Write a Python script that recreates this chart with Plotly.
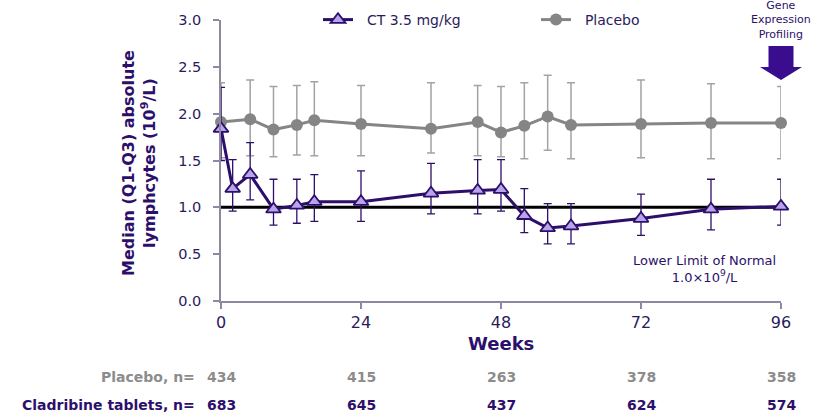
import plotly.graph_objects as go

# ---------------- data ----------------
weeks_ct = [0, 2, 5, 9, 13, 16, 24, 36, 44, 48, 52, 56, 60, 72, 84, 96]
ct_median = [1.84, 1.20, 1.35, 0.98, 1.02, 1.06, 1.06, 1.15, 1.18, 1.19, 0.91, 0.78, 0.80, 0.88, 0.98, 1.01]
ct_q1 = [1.50, 0.96, 1.08, 0.81, 0.83, 0.85, 0.85, 0.93, 0.93, 0.96, 0.73, 0.61, 0.61, 0.70, 0.76, 0.81]
ct_q3 = [2.28, 1.51, 1.69, 1.30, 1.30, 1.35, 1.39, 1.47, 1.51, 1.51, 1.20, 1.04, 1.04, 1.14, 1.30, 1.30]

weeks_pbo = [0, 5, 9, 13, 16, 24, 36, 44, 48, 52, 56, 60, 72, 84, 96]
pbo_median = [1.91, 1.94, 1.83, 1.88, 1.93, 1.89, 1.84, 1.91, 1.80, 1.87, 1.97, 1.88, 1.89, 1.90, 1.90]
pbo_q1 = [1.53, 1.55, 1.54, 1.56, 1.55, 1.55, 1.58, 1.55, 1.54, 1.52, 1.61, 1.52, 1.53, 1.52, 1.52]
pbo_q3 = [2.33, 2.36, 2.29, 2.30, 2.34, 2.30, 2.33, 2.30, 2.29, 2.33, 2.41, 2.33, 2.36, 2.32, 2.29]

lln = 1.0
x_ticks = [0, 24, 48, 72, 96]
y_ticks = [0.0, 0.5, 1.0, 1.5, 2.0, 2.5, 3.0]
n_weeks = [0, 24, 48, 72, 96]
placebo_n = [434, 415, 263, 378, 358]
ct_n = [683, 645, 437, 624, 574]

# ---------------- style ----------------
FONT = "DejaVu Sans"
PURPLE = "#2c0f6b"
ARROW = "#3a0c8e"
LAVENDER = "#b9a3ea"
GRAY = "#858585"
GRAY_BAR = "#a3a3a3"
AXIS = "#8e88a2"
TEXT = "#2b1b5c"

W, H = 813, 418
ML, MR, MT, MB = 221, 32, 20, 117
PH = H - MT - MB
NB = "\u00a0"


def py(pix):
    """pixel row -> paper y"""
    return (H - MB - pix) / PH


def px(pix):
    return (pix - ML) / (W - ML - MR)


fig = go.Figure()

fig.add_trace(go.Scatter(
    x=[weeks_ct[0], weeks_ct[-1]], y=[lln, lln], mode="lines",
    line=dict(color="black", width=3), showlegend=False, hoverinfo="skip",
    cliponaxis=False))

fig.add_trace(go.Scatter(
    x=weeks_pbo, y=pbo_median, mode="lines+markers", name=NB * 2 + "Placebo",
    line=dict(color=GRAY, width=3),
    marker=dict(symbol="circle", size=12, color=GRAY),
    error_y=dict(type="data", symmetric=False,
                 array=[q - m for q, m in zip(pbo_q3, pbo_median)],
                 arrayminus=[m - q for q, m in zip(pbo_q1, pbo_median)],
                 color=GRAY_BAR, thickness=1.5, width=4),
    legendrank=2, cliponaxis=False))

fig.add_trace(go.Scatter(
    x=weeks_ct, y=ct_median, mode="lines+markers",
    name=NB * 2 + "CT 3.5 mg/kg",
    line=dict(color=PURPLE, width=3),
    marker=dict(symbol="triangle-up", size=13, color=LAVENDER,
                line=dict(color=PURPLE, width=1.8)),
    error_y=dict(type="data", symmetric=False,
                 array=[q - m for q, m in zip(ct_q3, ct_median)],
                 arrayminus=[m - q for q, m in zip(ct_q1, ct_median)],
                 color=PURPLE, thickness=1.3, width=4),
    legendrank=1, cliponaxis=False))

annotations = []
# y axis title
annotations.append(dict(
    text="<b>Median (Q1-Q3) absolute<br>lymphcytes (10<sup>9</sup>/L)</b>",
    xref="paper", yref="paper", x=px(139), y=py(163), textangle=-90,
    showarrow=False, font=dict(family=FONT, size=16, color=PURPLE),
    xanchor="center", yanchor="middle"))
# x axis title
annotations.append(dict(
    text="<b>Weeks</b>", xref="paper", yref="paper", x=0.5, y=py(343),
    showarrow=False, font=dict(family=FONT, size=18, color=PURPLE),
    xanchor="center", yanchor="middle"))
# LLN label
annotations.append(dict(
    text="Lower Limit of Normal<br>1.0×10<sup>9</sup>/L",
    xref="paper", yref="paper", x=px(704), y=py(269), showarrow=False,
    font=dict(family=FONT, size=13, color=PURPLE), align="center",
    xanchor="center", yanchor="middle"))
# Gene expression profiling label
annotations.append(dict(
    text="Gene<br>Expression<br>Profiling",
    xref="x", yref="paper", x=x_ticks[-1], y=py(20), showarrow=False,
    font=dict(family=FONT, size=11, color=PURPLE), align="center",
    xanchor="center", yanchor="middle"))
# n at risk table
annotations.append(dict(
    text="<b>Placebo, n=</b>", xref="paper", yref="paper", x=px(197),
    y=py(377), showarrow=False, xanchor="right", yanchor="middle",
    font=dict(family=FONT, size=14, color="#8c8c8c")))
annotations.append(dict(
    text="<b>Cladribine tablets, n=</b>", xref="paper", yref="paper",
    x=px(197), y=py(405), showarrow=False, xanchor="right",
    yanchor="middle", font=dict(family=FONT, size=14, color=PURPLE)))
for wk, npb, nct in zip(n_weeks, placebo_n, ct_n):
    annotations.append(dict(
        text=f"<b>{npb}</b>", xref="x", yref="paper", x=wk, y=py(377),
        showarrow=False, xanchor="center", yanchor="middle",
        font=dict(family=FONT, size=14, color="#8c8c8c")))
    annotations.append(dict(
        text=f"<b>{nct}</b>", xref="x", yref="paper", x=wk, y=py(405),
        showarrow=False, xanchor="center", yanchor="middle",
        font=dict(family=FONT, size=14, color=PURPLE)))

# block arrow (pixel-sized, anchored at arrow tip)
arrow_path = ("M -12.5,34 L 12.5,34 L 12.5,13 L 21,13 L 0,0 "
              "L -21,13 L -12.5,13 Z")
shapes = [dict(type="path", xref="paper", yref="paper",
               xsizemode="pixel", ysizemode="pixel",
               xanchor=1.0, yanchor=py(80), path=arrow_path,
               fillcolor=ARROW, line=dict(width=0), layer="above")]

fig.update_layout(
    width=W, height=H,
    margin=dict(l=ML, r=MR, t=MT, b=MB, pad=0, autoexpand=False),
    paper_bgcolor="white", plot_bgcolor="white",
    font=dict(family=FONT, color=TEXT),
    showlegend=True,
    legend=dict(orientation="h", xref="container", yref="container",
                x=318 / W, y=1 - 20 / H, xanchor="left",
                yanchor="middle", bgcolor="rgba(0,0,0,0)",
                font=dict(family=FONT, size=14, color=TEXT),
                entrywidth=173, entrywidthmode="pixels"),
    annotations=annotations,
    shapes=shapes,
    xaxis=dict(range=[x_ticks[0], x_ticks[-1]], tickvals=x_ticks,
               showline=True, linecolor=AXIS, linewidth=1.5,
               ticks="outside", ticklen=6, tickcolor=AXIS, tickwidth=1.5,
               showgrid=False, zeroline=False,
               tickfont=dict(family=FONT, size=16, color=TEXT),
               automargin=False),
    yaxis=dict(range=[y_ticks[0], y_ticks[-1]], tickvals=y_ticks,
               tickformat=".1f",
               showline=True, linecolor=AXIS, linewidth=1.5,
               ticks="outside", ticklen=6, tickcolor=AXIS, tickwidth=1.5,
               ticklabelstandoff=9,
               showgrid=False, zeroline=False,
               tickfont=dict(family=FONT, size=14.5, color=TEXT),
               automargin=False),
)

fig.write_html(
    "out.html",
    config={"displayModeBar": False},
    post_script="document.body.style.margin='0';"
                "document.body.style.overflow='hidden';")
